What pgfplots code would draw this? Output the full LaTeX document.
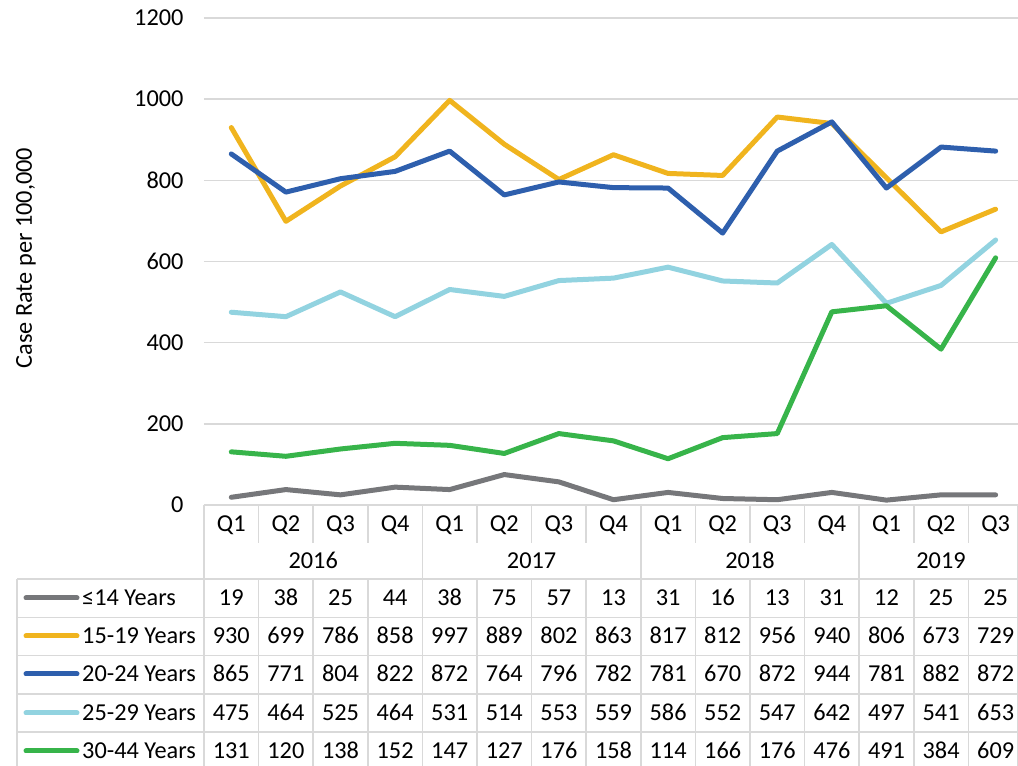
\documentclass[border=0pt]{standalone}
\usepackage{pgfplots}
\pgfplotsset{compat=1.18}
\usepackage{pgfplotstable}
\usepackage{fontspec}
\setmainfont{Carlito}

\definecolor{cgrey}{HTML}{76777A}
\definecolor{cgold}{HTML}{F0B41E}
\definecolor{cblue}{HTML}{2E5FAD}
\definecolor{clight}{HTML}{92D3E0}
\definecolor{cgreen}{HTML}{37B44A}
\definecolor{gridc}{HTML}{D9D9D9}

\pgfplotstableread{
x a b c d e
0 19 930 865 475 131
1 38 699 771 464 120
2 25 786 804 525 138
3 44 858 822 464 152
4 38 997 872 531 147
5 75 889 764 514 127
6 57 802 796 553 176
7 13 863 782 559 158
8 31 817 781 586 114
9 16 812 670 552 166
10 13 956 872 547 176
11 31 940 944 642 476
12 12 806 781 497 491
13 25 673 882 541 384
14 25 729 872 653 609
}\datatable

\begin{document}
\begin{tikzpicture}[x=1pt,y=1pt,font=\fontsize{24.3}{28}\selectfont]
\begin{axis}[
  at={(204pt,261pt)}, anchor=south west,
  scale only axis, width=814pt, height=487pt,
  xmin=-0.5, xmax=14.41, ymin=0, ymax=1200,
  ytick={0,200,...,1200}, xtick=\empty,
  ymajorgrids, grid style={draw=gridc, line width=1.4pt},
  axis line style={draw=none},
  major tick length=0pt,
  /pgf/number format/assume math mode=true,
  /pgf/number format/1000 sep={},
  yticklabel style={font=\fontsize{24.3}{28}\selectfont, xshift=-17pt},
  ylabel={Case Rate per 100,000},
  ylabel style={at={(axis description cs:-0.2187,0.507)}, anchor=center, font=\fontsize{24.3}{28}\selectfont},
  clip=false,
]
\addplot[cgrey, line width=5pt, line join=round, line cap=round] table[x=x,y=a] {\datatable};
\addplot[cgold, line width=5pt, line join=round, line cap=round] table[x=x,y=b] {\datatable};
\addplot[cblue, line width=5pt, line join=round, line cap=round] table[x=x,y=c] {\datatable};
\addplot[clight, line width=5pt, line join=round, line cap=round] table[x=x,y=d] {\datatable};
\addplot[cgreen, line width=5pt, line join=round, line cap=round] table[x=x,y=e] {\datatable};
\end{axis}
% table grid
\begin{scope}[draw=gridc, line width=1.5pt]
  \foreach \yy in {187,148.5,110.5,72,34} {\draw (17,\yy) -- (1018,\yy);}
  \draw (17,187) -- (17,0);
  \draw (204,261) -- (204,0);
  \draw (1017.5,261) -- (1017.5,0);
  \foreach \k in {1,2,3,5,6,7,9,10,11,13,14} {
    \draw ({204+54.6*\k},261) -- ({204+54.6*\k},223);
    \draw ({204+54.6*\k},187) -- ({204+54.6*\k},0);
  }
  \foreach \k in {4,8,12} {\draw ({204+54.6*\k},261) -- ({204+54.6*\k},0);}
\end{scope}
% quarter and year labels
\foreach \i/\q in {0/Q1,1/Q2,2/Q3,3/Q4,4/Q1,5/Q2,6/Q3,7/Q4,8/Q1,9/Q2,10/Q3,11/Q4,12/Q1,13/Q2,14/Q3} {
  \node[anchor=base, inner sep=0] at ({204+54.6*(\i+0.5)},234.2) {\q};
}
\foreach \xx/\yr in {313.2/2016,531.6/2017,750/2018,941/2019} {
  \node[anchor=base, inner sep=0] at (\xx,197.2) {\yr};
}
% legend column
\foreach \yy/\cc/\lab in {168/cgrey/{≤14 Years},130/cgold/{15-19 Years},92/cblue/{20-24 Years},53/clight/{25-29 Years},15/cgreen/{30-44 Years}} {
  \draw[\cc, line width=5pt, line cap=round] (26,\yy) -- (77,\yy);
  \node[anchor=base west, inner sep=0] at (82,\yy-7.8) {\lab};
}
% values
\foreach \col/\yy in {a/168,b/130,c/92,d/53,e/15} {
  \foreach \i in {0,...,14} {
    \pgfplotstablegetelem{\i}{\col}\of\datatable
    \node[anchor=base, inner sep=0] at ({204+54.6*(\i+0.5)},{\yy-7.8}) {\pgfplotsretval};
  }
}
\pgfresetboundingbox
\path (0,0) rectangle (1018,766);
\end{tikzpicture}
\end{document}
